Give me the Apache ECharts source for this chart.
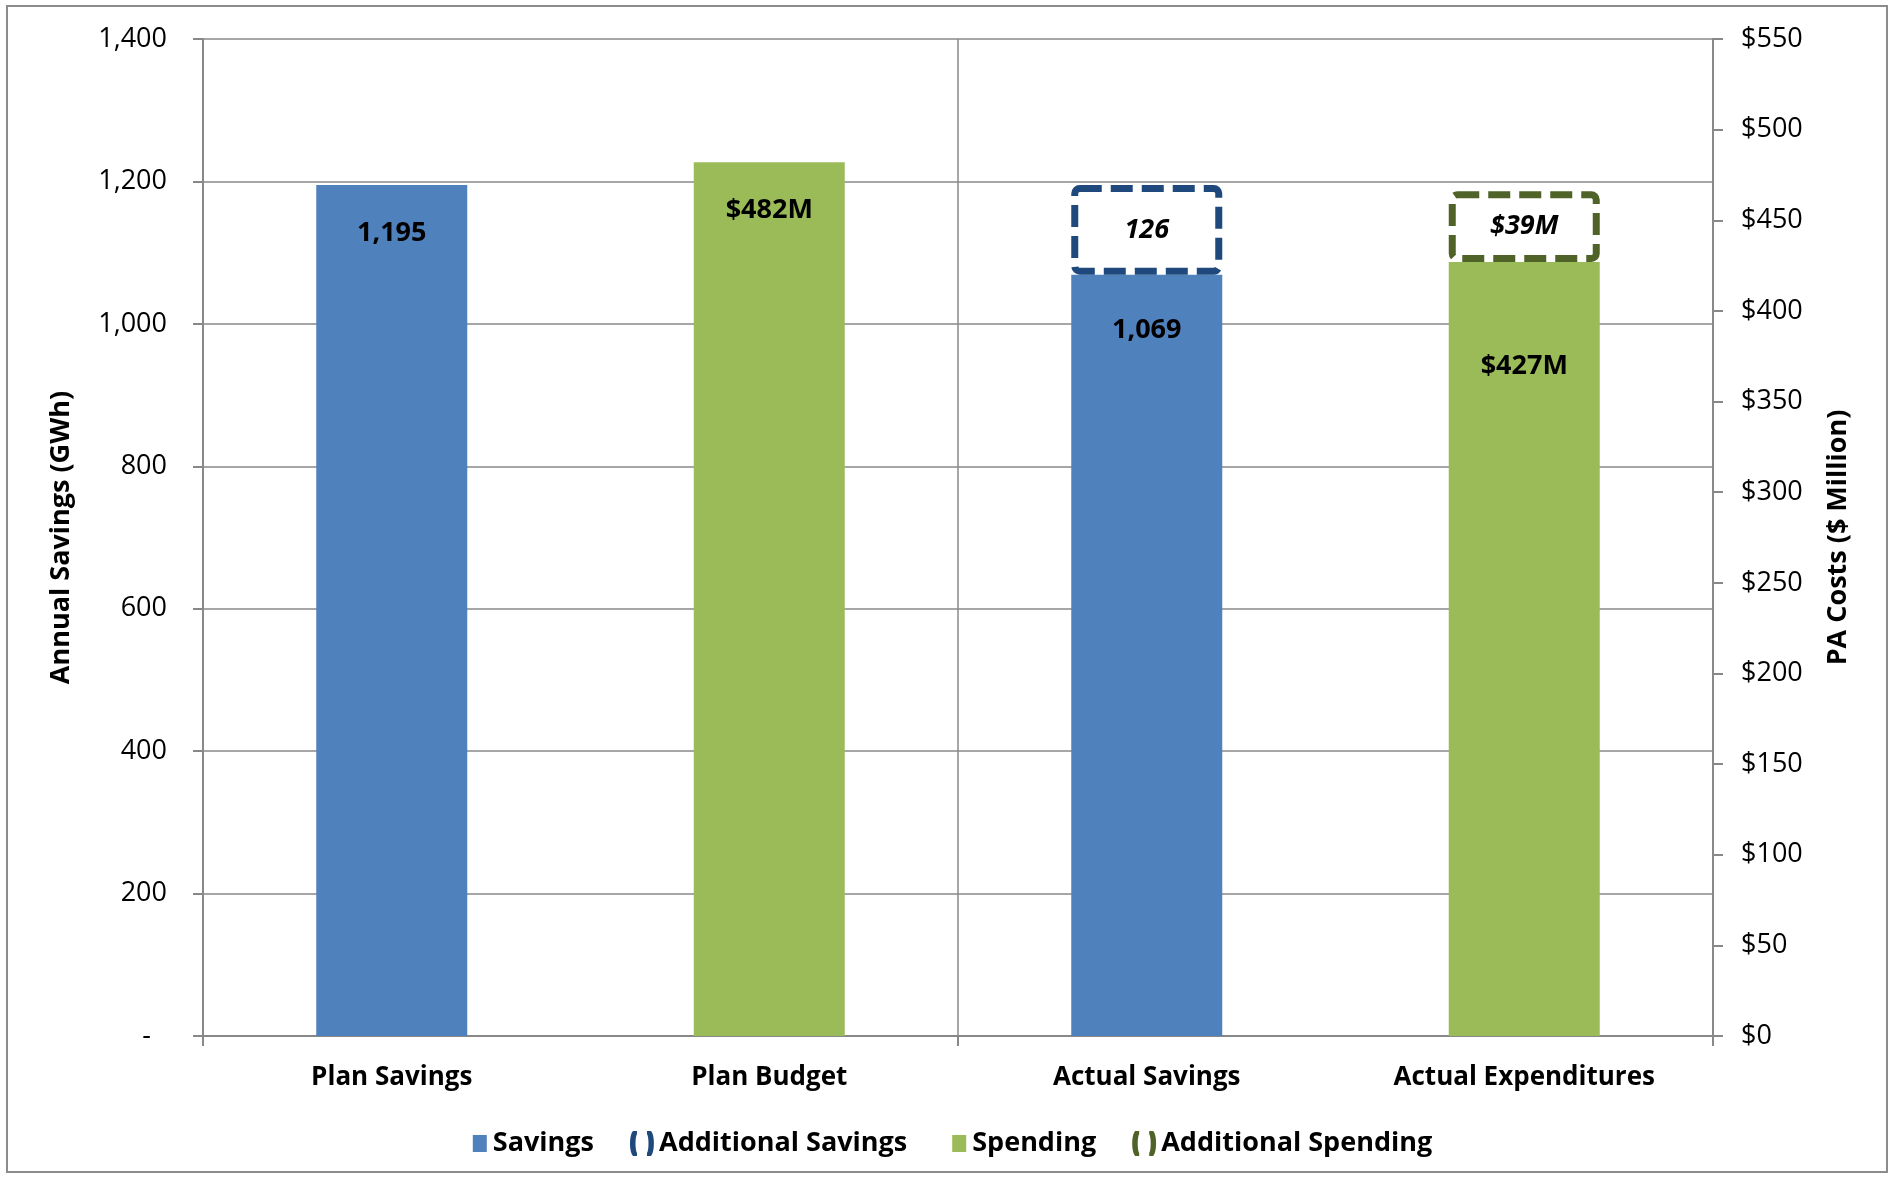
<!DOCTYPE html>
<html>
<head>
<meta charset="utf-8">
<style>
  html, body { margin: 0; padding: 0; background: #ffffff; }
  #chart { width: 1896px; height: 1178px; }
</style>
<script src="https://cdn.jsdelivr.net/npm/echarts@6/dist/echarts.min.js"></script>
</head>
<body>
<div id="chart"></div>
<script>
// Categories along the bottom axis
const categories = ['Plan Savings', 'Plan Budget', 'Actual Savings', 'Actual Expenditures'];

// Annual savings, GWh (left axis)
const savings = [1195, null, 1069, null];
const additionalSavings = [null, null, 126, null];

// Program administrator costs, $ million (right axis)
const spending = [null, 482, null, 427];
const additionalSpending = [null, null, null, 39];

// Axis ranges
const savingsAxis = { min: 0, max: 1400, interval: 200 };
const costAxis = { min: 0, max: 550, interval: 50 };

const FONT = '"Open Sans", "Liberation Sans", sans-serif';
const BLUE = '#4F81BD';
const GREEN = '#9BBB59';
const DARK_BLUE = '#1F497D';
const DARK_GREEN = '#4F6228';
const GRID = '#888888';

const fmtComma = v => String(Math.round(v)).replace(/\B(?=(\d{3})+(?!\d))/g, ',');
const orDash = arr => arr.map(v => (v == null ? '-' : v));

// Legend glyphs share one 24x25 box: a small square, and a pair of brackets
// standing for the dashed outline of the "additional" bars.
const CORNERS = ' M0,0 h0.01 v0.01 h-0.01 z M24,25 h0.01 v0.01 h-0.01 z';
const SQUARE_ICON = 'path://M9,4 h14 v17 h-14 z' + CORNERS;
const BRACKET_ICON = 'path://M3,0 h4 v3 c-2,3 -2,16 0,19 v3 h-4 c-4,-4 -4,-21 0,-25 z' +
  ' M17,0 h4 c4,4 4,21 0,25 h-4 v-3 c2,-3 2,-16 0,-19 z' + CORNERS;

const labelBase = {
  show: true,
  color: '#000',
  fontFamily: FONT,
  fontSize: 27,
  fontWeight: 'bold'
};

const chart = echarts.init(document.getElementById('chart'), null, { renderer: 'canvas' });

const savingsData = savings.map((v, i) =>
  v == null ? '-' : (i === 2 ? { value: v, label: { distance: 42 } } : v));
const spendingData = spending.map((v, i) =>
  v == null ? '-' : (i === 3 ? { value: v, label: { distance: 91 } } : v));

const option = {
  backgroundColor: '#ffffff',
  animation: false,
  textStyle: { fontFamily: FONT },
  graphic: [{
    type: 'rect',
    shape: { x: 7, y: 6, width: 1880, height: 1166 },
    style: { fill: 'none', stroke: '#8c8c8c', lineWidth: 2 },
    silent: true,
    z: -1
  }],
  grid: { left: 203, right: 183, top: 39, bottom: 142, containLabel: false },
  legend: {
    left: 'center',
    top: 1125,
    itemGap: 36,
    itemWidth: 24,
    itemHeight: 25,
    symbolKeepAspect: true,
    textStyle: { fontFamily: FONT, fontSize: 27, fontWeight: 'bold', color: '#000' },
    data: [
      { name: 'Savings', icon: SQUARE_ICON, itemStyle: { color: BLUE, borderWidth: 0 } },
      { name: 'Additional Savings', icon: BRACKET_ICON, itemStyle: { color: DARK_BLUE, borderWidth: 0 } },
      { name: 'Spending', icon: SQUARE_ICON, itemStyle: { color: GREEN, borderWidth: 0 } },
      { name: 'Additional Spending', icon: BRACKET_ICON, itemStyle: { color: DARK_GREEN, borderWidth: 0 } }
    ]
  },
  xAxis: {
    type: 'category',
    data: categories,
    boundaryGap: true,
    axisLine: { show: true, lineStyle: { color: GRID, width: 2 } },
    axisTick: { show: true, length: 10, interval: i => i % 2 === 0, lineStyle: { color: GRID, width: 2 } },
    splitLine: { show: true, interval: i => i % 2 === 0, lineStyle: { color: GRID, width: 1.5 } },
    axisLabel: {
      interval: 0,
      margin: 29,
      color: '#000',
      fontFamily: FONT,
      fontSize: 26,
      fontWeight: 'bold'
    }
  },
  yAxis: [
    {
      type: 'value',
      position: 'left',
      min: savingsAxis.min,
      max: savingsAxis.max,
      interval: savingsAxis.interval,
      name: 'Annual Savings (GWh)',
      nameLocation: 'middle',
      nameGap: 128,
      nameRotate: 90,
      nameTextStyle: { fontFamily: FONT, fontSize: 27, fontWeight: 'bold', color: '#000' },
      axisLine: { show: true, lineStyle: { color: GRID, width: 2 } },
      axisTick: { show: true, length: 10, lineStyle: { color: GRID, width: 2 } },
      splitLine: { show: true, lineStyle: { color: GRID, width: 1.5 } },
      axisLabel: {
        margin: 36,
        color: '#000',
        fontFamily: FONT,
        fontSize: 27,
        formatter: v => (v === 0 ? '{dash|-}' : fmtComma(v)),
        rich: { dash: { fontFamily: FONT, fontSize: 27, color: '#000', padding: [0, 16, 0, 0] } }
      }
    },
    {
      type: 'value',
      position: 'right',
      min: costAxis.min,
      max: costAxis.max,
      interval: costAxis.interval,
      name: 'PA Costs ($ Million)',
      nameLocation: 'middle',
      nameGap: 112,
      nameRotate: 90,
      nameTextStyle: { fontFamily: FONT, fontSize: 27, fontWeight: 'bold', color: '#000' },
      axisLine: { show: true, lineStyle: { color: GRID, width: 2 } },
      axisTick: { show: true, length: 10, lineStyle: { color: GRID, width: 2 } },
      splitLine: { show: false },
      axisLabel: {
        margin: 28,
        color: '#000',
        fontFamily: FONT,
        fontSize: 27,
        formatter: v => '$' + v
      }
    }
  ],
  series: [
    {
      name: 'Savings',
      type: 'bar',
      yAxisIndex: 0,
      stack: 'gwh',
      barWidth: '40%',
      barGap: '-100%',
      data: savingsData,
      itemStyle: { color: BLUE },
      label: Object.assign({}, labelBase, {
        position: 'insideTop',
        distance: 35,
        formatter: p => fmtComma(p.value)
      }),
      z: 2
    },
    {
      name: 'Additional Savings',
      type: 'bar',
      yAxisIndex: 0,
      stack: 'gwh',
      barWidth: '40%',
      barGap: '-100%',
      data: orDash(additionalSavings),
      itemStyle: {
        color: '#ffffff',
        borderColor: DARK_BLUE,
        borderWidth: 7,
        borderType: [22, 9],
        borderRadius: 5
      },
      label: Object.assign({}, labelBase, {
        position: 'inside',
        fontStyle: 'italic',
        formatter: p => fmtComma(p.value)
      }),
      z: 3
    },
    {
      name: 'Spending',
      type: 'bar',
      yAxisIndex: 1,
      stack: 'cost',
      barWidth: '40%',
      barGap: '-100%',
      data: spendingData,
      itemStyle: { color: GREEN },
      label: Object.assign({}, labelBase, {
        position: 'insideTop',
        distance: 35,
        formatter: p => '$' + p.value + 'M'
      }),
      z: 2
    },
    {
      name: 'Additional Spending',
      type: 'bar',
      yAxisIndex: 1,
      stack: 'cost',
      barWidth: '40%',
      barGap: '-100%',
      data: orDash(additionalSpending),
      itemStyle: {
        color: '#ffffff',
        borderColor: DARK_GREEN,
        borderWidth: 7,
        borderType: [22, 9],
        borderRadius: 5
      },
      label: Object.assign({}, labelBase, {
        position: 'inside',
        fontStyle: 'italic',
        formatter: p => '$' + p.value + 'M'
      }),
      z: 3
    }
  ]
};

chart.setOption(option);
</script>
</body>
</html>
